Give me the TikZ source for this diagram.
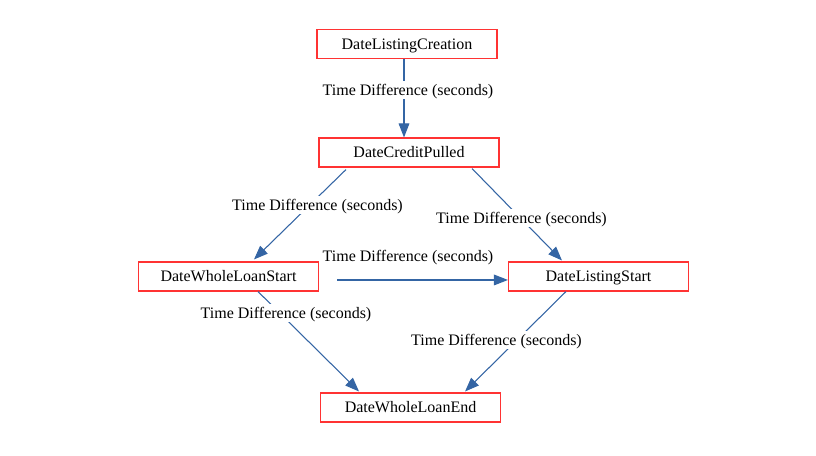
\documentclass[tikz,border=0pt]{standalone}
\usepackage{fontspec}
\setmainfont{Liberation Serif}
\usetikzlibrary{arrows.meta, calc, positioning}
\definecolor{edgeblue}{HTML}{3465A4}
\definecolor{boxred}{HTML}{FF3333}

\tikzset{
	datebox/.style={draw=boxred, line width=0.8pt, minimum width=135pt, minimum height=21.75pt, inner sep=0pt, text height=9pt, text depth=1pt, font=\fontsize{12}{14}\selectfont},
	diffedge/.style={-{Triangle[length=10.5pt,width=8pt]}, edgeblue, line width=0.8pt},
	difflabel/.style={fill=white, inner sep=2pt, text height=9pt, text depth=1pt, font=\fontsize{12}{14}\selectfont}
}

\begin{document}
\begin{tikzpicture}[x=0.75pt, y=-0.75pt]
	\useasboundingbox (0,0) rectangle (816,456);
	
	% date columns
	\node[datebox] (dlc) at (407,44) {DateListingCreation};
	\node[datebox] (dcp) at (409,152.5) {DateCreditPulled};
	\node[datebox] (dwls) at (228.5,276.5) {DateWholeLoanStart};
	\node[datebox] (dls) at (598.5,276.5) {DateListingStart};
	\node[datebox] (dwle) at (410.5,407.5) {DateWholeLoanEnd};
	
	% time differences
	\draw[diffedge] ([xshift=-2.25pt]dlc.south) -- ([xshift=-3.75pt]dcp.north);
	\draw[diffedge] ([xshift=-47.25pt,yshift=-1.5pt]dcp.south) -- ([xshift=19.1pt,yshift=1.5pt]dwls.north);
	\draw[diffedge] ([xshift=47.25pt,yshift=-0.75pt]dcp.south) -- ([xshift=-27.4pt,yshift=0.75pt]dls.north);
	\draw[diffedge] ([xshift=13.5pt,yshift=-2.6pt]dwls.east) -- ([yshift=-2.6pt]dls.west);
	\draw[diffedge] ([xshift=22.1pt]dwls.south) -- ([xshift=-38.6pt,yshift=0.75pt]dwle.north);
	\draw[diffedge] ([xshift=-24.4pt]dls.south) -- ([xshift=40.9pt,yshift=0.75pt]dwle.north);
	
	% edge labels
	\node[difflabel] (l1) at (408,90) {Time Difference (seconds)};
	\node[difflabel] (l2) at (317.5,205) {Time Difference (seconds)};
	\node[difflabel] (l3) at (521.5,218) {Time Difference (seconds)};
	\node[difflabel] (l4) at (408,256) {Time Difference (seconds)};
	\node[difflabel] (l5) at (286,313) {Time Difference (seconds)};
	\node[difflabel] (l6) at (496.5,340) {Time Difference (seconds)};
\end{tikzpicture}
\end{document}
